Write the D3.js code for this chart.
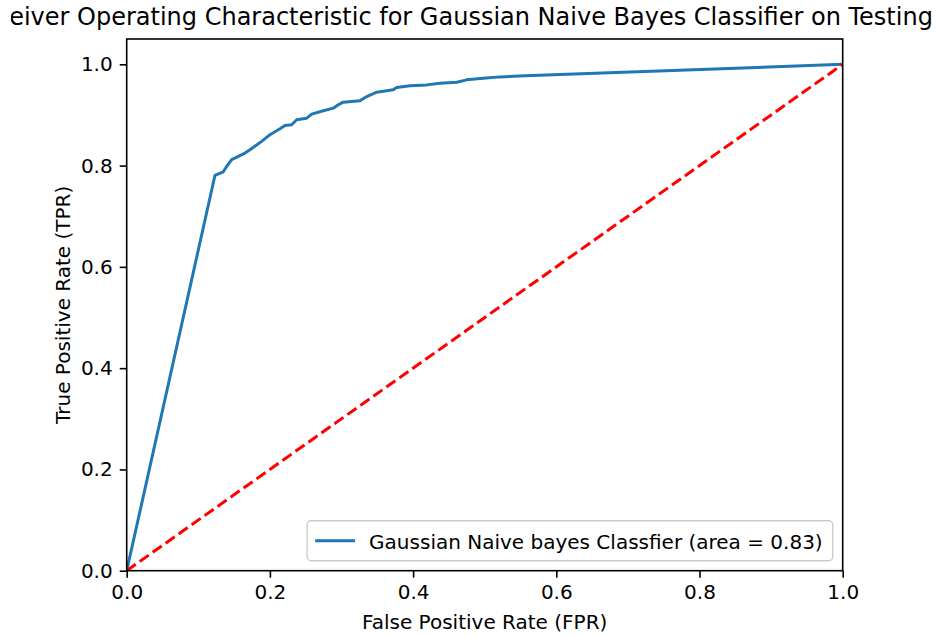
<!DOCTYPE html>
<html><head><meta charset="utf-8">
<script src="https://cdn.jsdelivr.net/npm/d3@7"></script>
<style>body{margin:0;background:#fff}svg{display:block;overflow:hidden}text{font-family:"DejaVu Sans",sans-serif;fill:#000}</style>
</head><body><svg id="c" width="942" height="637"></svg>
<script>
const fpr = [0, 0.1233, 0.1349, 0.1397, 0.1466, 0.1559, 0.1652, 0.1722, 0.1885, 0.2001, 0.2141, 0.2211, 0.2304, 0.2374, 0.2514, 0.2584, 0.2746, 0.2885, 0.2955, 0.3025, 0.3258, 0.3352, 0.3492, 0.3723, 0.3771, 0.3957, 0.4190, 0.4376, 0.4609, 0.4749, 0.4980, 0.5214, 0.5563, 1];
const tpr = [0, 0.7809, 0.7878, 0.7986, 0.8118, 0.8183, 0.8248, 0.8315, 0.8478, 0.8610, 0.8728, 0.8793, 0.8807, 0.8906, 0.8937, 0.9016, 0.9083, 0.9134, 0.9201, 0.9252, 0.9280, 0.9364, 0.9449, 0.9496, 0.9541, 0.9575, 0.9594, 0.9626, 0.9646, 0.9693, 0.9724, 0.9752, 0.9772, 1];
const chanceX = [0, 1];
const chanceY = [0, 1];
const xTicks = [0, 0.2, 0.4, 0.6, 0.8, 1.0];
const yTicks = [0, 0.2, 0.4, 0.6, 0.8, 1.0];
const titleText = "Receiver Operating Characteristic for Gaussian Naive Bayes Classifier on Testing Data";
const xLabel = "False Positive Rate (FPR)";
const yLabel = "True Positive Rate (TPR)";
const legendLabel = "Gaussian Naive bayes Classfier (area = 0.83)";

const svg = d3.select("#c");
const L = 126.7, R = 842.7, T = 39, B = 570.7;
const x = d3.scaleLinear().domain([0, 1]).range([L, R]);
const y = d3.scaleLinear().domain([0, 1.05]).range([B, T]);
const fs = 20;

svg.append("clipPath").attr("id","clip").append("rect")
  .attr("x", L).attr("y", T).attr("width", R-L).attr("height", B-T);
svg.append("clipPath").attr("id","tclip").append("rect")
  .attr("x", 11).attr("y", 0).attr("width", 931).attr("height", 38);

const line = d3.line().x(d=>x(d[0])).y(d=>y(d[1]));
const g = svg.append("g").attr("clip-path","url(#clip)");
g.append("path").datum(fpr.map((v,i)=>[v,tpr[i]])).attr("d", line)
  .attr("fill","none").attr("stroke","#1f77b4").attr("stroke-width",3)
  .attr("stroke-linejoin","round").attr("stroke-linecap","square");
g.append("path").datum(chanceX.map((v,i)=>[v,chanceY[i]])).attr("d", line)
  .attr("fill","none").attr("stroke","#ff0000").attr("stroke-width",3)
  .attr("stroke-dasharray","11.1,4.8");

// axes
const xa = svg.append("g").attr("transform",`translate(0,${B})`)
  .call(d3.axisBottom(x).tickValues(xTicks).tickFormat(d3.format(".1f")).tickSize(7).tickPadding(7));
const ya = svg.append("g").attr("transform",`translate(${L},0)`)
  .call(d3.axisLeft(y).tickValues(yTicks).tickFormat(d3.format(".1f")).tickSize(7).tickPadding(7));
[xa, ya].forEach(a=>{
  a.select(".domain").remove();
  a.selectAll(".tick line").attr("stroke","#000").attr("stroke-width",1.6);
  a.selectAll(".tick text").attr("font-size",fs).attr("font-family","DejaVu Sans").attr("fill","#000");
});
svg.append("rect").attr("x",L).attr("y",T).attr("width",R-L).attr("height",B-T)
  .attr("fill","none").attr("stroke","#000").attr("stroke-width",1.6);

// labels
svg.append("g").attr("clip-path","url(#tclip)")
  .append("text").attr("x",(L+R)/2 - 3).attr("y",25).attr("text-anchor","middle")
  .attr("font-size",24).text(titleText);
svg.append("text").attr("x",(L+R)/2).attr("y",629).attr("text-anchor","middle")
  .attr("font-size",fs).text(xLabel);
svg.append("text").attr("transform",`translate(70,${(T+B)/2}) rotate(-90)`).attr("text-anchor","middle")
  .attr("font-size",fs).text(yLabel);

// legend
const lg = svg.append("g");
const lt = lg.append("text").attr("x",368).attr("y",548.5).attr("font-size",fs).text(legendLabel);
const tw = lt.node().getComputedTextLength();
const lx = 306, lw = (368 + tw + 10) - lx, lh = 40;
lg.insert("rect","text").attr("x",R-10-lw).attr("y",B-10-lh).attr("width",lw).attr("height",lh)
  .attr("rx",4).attr("fill","#fff").attr("fill-opacity",0.8).attr("stroke","#cccccc").attr("stroke-width",1.4);
const bx = R-10-lw;
lt.attr("x", bx + 62);
lg.append("line").attr("x1",bx+8).attr("x2",bx+48).attr("y1",B-10-lh/2).attr("y2",B-10-lh/2)
  .attr("stroke","#1f77b4").attr("stroke-width",3);
</script></body></html>
